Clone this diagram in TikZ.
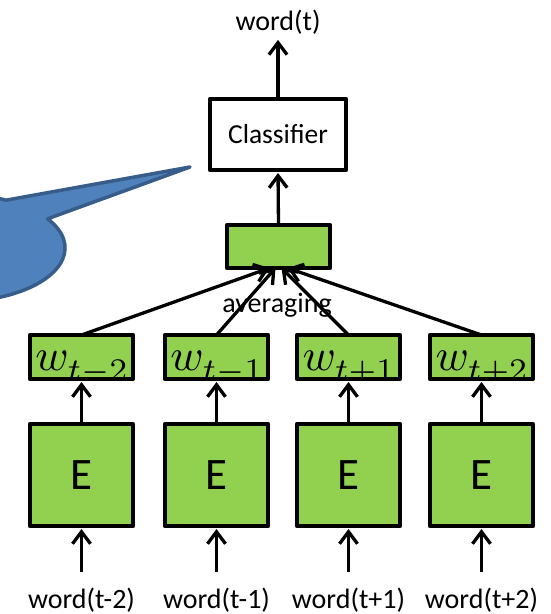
\documentclass[tikz,border=0pt]{standalone}
\usepackage{graphicx}
\usepackage[no-math]{fontspec}
\setmainfont{Carlito}
\usetikzlibrary{arrows.meta}

\definecolor{boxgreen}{HTML}{92D050}
\definecolor{calloutfill}{HTML}{4F81BD}
\definecolor{calloutline}{HTML}{385D8A}

% word vector label with a lowered subscript (set at 10pt, then scaled up)
\newcommand{\wlabel}[1]{\scalebox{4.5}{$w_{\lower0.9pt\hbox{$\scriptstyle #1$}}$}}

\begin{document}
\begin{tikzpicture}[x=1pt,y=1pt,
  every node/.style={inner sep=0pt, outer sep=0pt},
  lbl/.style={font=\fontsize{28}{33}\selectfont, anchor=base},
  box/.style={draw, line width=4.5pt, line join=round},
  greenbox/.style={box, fill=boxgreen},
  ebox/.style={greenbox, minimum width=103pt, minimum height=102pt,
    font=\fontsize{45}{54}\selectfont},
  wbox/.style={greenbox, minimum width=103pt, minimum height=44pt,
    path picture={\node[anchor=base west, font=\normalsize]
      at ([xshift=1pt,yshift=9pt]path picture bounding box.south west) {\wlabel{#1}};}},
  arr/.style={line width=3.3pt, -{Straight Barb[length=12pt,width=18pt]}},
]
\useasboundingbox (0,0) rectangle (550,-614);

% callout bubble, cut off at the left edge
\begin{scope}
  \clip (0,0) rectangle (550,-614);
  \filldraw[fill=calloutfill, draw=calloutline, line width=3.5pt, line join=round]
    (7,-200) -- (190,-167) -- (47.6,-218.8)
    arc[start angle=32.7, end angle=-298, x radius=110, y radius=54] -- cycle;
\end{scope}

% top part
\node[lbl] (out) at (278,-30) {word(t)};
\node[box, fill=white, minimum width=136pt, minimum height=71pt,
  font=\fontsize{27.5}{33}\selectfont] (cls) at (278,-134.5) {Classifier};
\node[greenbox, minimum width=103pt, minimum height=43pt] (avg) at (278.5,-246.5) {};
\node[lbl] (avglbl) at (277,-312) {averaging};

% context word columns
\foreach \i/\x/\s/\wtxt in {1/81.5/t-2/word(t-2), 2/216.5/t-1/word(t-1),
                           3/348.5/t+1/word(t+1), 4/481.5/t+2/word(t+2)} {
  \node[wbox=\s] (w\i) at (\x,-357) {};
  \node[ebox] (e\i) at (\x,-475) {E};
  \node[lbl] (in\i) at (\x,-608) {\wtxt};
  \coordinate (src\i) at (\x,-572);
}

% connectors
\draw[arr, shorten >=6pt] (cls.north) -- (out.south);
\draw[arr, shorten >=3pt] (avg.north) -- (cls.south);
\draw[arr] (w1.north) -- ([xshift=-9pt]avg.south);
\draw[arr] (w2.north) -- ([xshift=-3pt]avg.south);
\draw[arr] (w3.north) -- ([xshift=3pt]avg.south);
\draw[arr] (w4.north) -- ([xshift=9pt]avg.south);
\foreach \i in {1,...,4} {
  \draw[arr, shorten >=3pt] (e\i.north) -- (w\i.south);
  \draw[arr, shorten >=3pt] (src\i) -- (e\i.south);
}
\end{tikzpicture}
\end{document}
